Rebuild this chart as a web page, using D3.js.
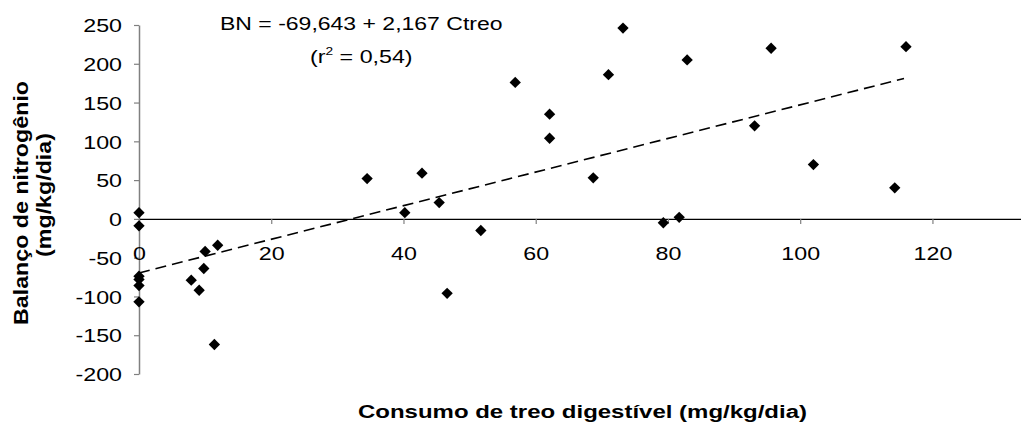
<!DOCTYPE html>
<html>
<head>
<meta charset="utf-8">
<script src="https://cdn.jsdelivr.net/npm/d3@7"></script>
<style>
  html, body { margin: 0; padding: 0; background: #fff; }
  svg { display: block; font-family: "Liberation Sans", Arial, Helvetica, sans-serif; }
</style>
</head>
<body>
<svg id="chart" width="1021" height="426"></svg>
<script>
// ---- data ----
const consumo = [0, 0, 0, 0, 0, 0,
  7.9, 9.1, 9.8, 10.0, 11.9, 11.4,
  34.5, 40.2, 42.8, 45.4, 46.6, 51.7, 56.9, 62.1, 62.1, 68.7, 71.0, 73.2,
  79.3, 81.7, 82.9, 93.1, 95.6, 102.0, 114.3, 116.0];
const balanco = [8, -9, -74, -78, -86, -107,
  -79, -92, -64, -42, -34, -162,
  52, 8, 59, 21, -96, -15, 176, 135, 104, 53, 186, 246,
  -5, 2, 205, 120, 220, 70, 40, 222];
const xTicks = [0, 20, 40, 60, 80, 100, 120];
const yTicks = [-200, -150, -100, -50, 0, 50, 100, 150, 200, 250];
const intercept = -69.643;
const slope = 2.167;
const trendX = [0, 115.7];
const equationText = "BN = -69,643 + 2,167 Ctreo";
const r2Text = " = 0,54)";
const xTitle = "Consumo de treo digestível (mg/kg/dia)";
const yTitle1 = "Balanço de nitrogênio";
const yTitle2 = "(mg/kg/dia)";

// ---- layout ----
const svg = d3.select("#chart");
const FS = 18.6;      // font size
const SX = 1.25;      // horizontal stretch of the reference text

const x = d3.scaleLinear().domain([0, 140]).range([139, 139 + 140 * 6.612]);
const y = d3.scaleLinear().domain([-200, 250]).range([374, 25]);

// y axis (grey)
const yAxis = svg.append("g")
  .attr("transform", `translate(${x(0)},0)`)
  .call(d3.axisLeft(y).tickValues(yTicks).tickSize(5).tickSizeOuter(0).tickFormat(d3.format("d")));
yAxis.select(".domain").attr("stroke", "#808080").attr("stroke-width", 1.5);
yAxis.selectAll(".tick line").attr("stroke", "#808080").attr("stroke-width", 1.2);
yAxis.selectAll(".tick text")
  .attr("x", null).attr("dy", null)
  .attr("transform", `translate(-17,6.7) scale(${SX},1)`)
  .attr("font-size", FS).attr("fill", "#000")
  .attr("font-family", "Liberation Sans, Arial, sans-serif")
  .text(d => d.toString());

// x axis (black line at y = 0)
const xAxis = svg.append("g")
  .attr("transform", `translate(0,${y(0)})`)
  .call(d3.axisBottom(x).tickValues(xTicks).tickSize(5).tickSizeOuter(0));
xAxis.select(".domain").attr("stroke", "#000").attr("stroke-width", 1.4);
xAxis.selectAll(".tick line").attr("stroke", "#808080").attr("stroke-width", 1.2);
xAxis.selectAll(".tick text")
  .attr("y", null).attr("dy", null)
  .attr("transform", `translate(0,41) scale(${SX},1)`)
  .attr("font-size", FS).attr("fill", "#000")
  .attr("font-family", "Liberation Sans, Arial, sans-serif");

// trend line
const line = d3.line().x(d => x(d)).y(d => y(intercept + slope * d));
svg.append("path")
  .datum(trendX)
  .attr("d", line)
  .attr("fill", "none")
  .attr("stroke", "#000")
  .attr("stroke-width", 1.6)
  .attr("stroke-dasharray", "11,6");

// points (diamonds)
const sym = d3.symbol().type(d3.symbolSquare).size(64);
svg.append("g").selectAll("path")
  .data(consumo.map((c, i) => [c, balanco[i]]))
  .join("path")
  .attr("d", sym)
  .attr("transform", d => `translate(${x(d[0])},${y(d[1])}) rotate(45)`)
  .attr("fill", "#000");

// equation
svg.append("text")
  .attr("transform", `translate(220,30) scale(${SX * 0.99},1)`)
  .attr("font-size", FS)
  .text(equationText);
const r2 = svg.append("text")
  .attr("transform", `translate(310,63) scale(${SX},1)`)
  .attr("font-size", FS);
r2.append("tspan").text("(r");
r2.append("tspan").attr("font-size", 11).attr("dy", -8).text("2");
r2.append("tspan").attr("dy", 8).text(r2Text);

// x title
svg.append("text")
  .attr("transform", `translate(358,418) scale(1.29,1)`)
  .attr("font-size", FS)
  .attr("font-weight", "bold")
  .text(xTitle);

// y title (two lines, rotated)
svg.append("text")
  .attr("transform", `translate(28,203) rotate(-90) scale(1.25,1.13)`)
  .attr("font-size", FS).attr("font-weight", "bold")
  .attr("text-anchor", "middle")
  .text(yTitle1);
svg.append("text")
  .attr("transform", `translate(51,195) rotate(-90) scale(1.25,1.13)`)
  .attr("font-size", FS).attr("font-weight", "bold")
  .attr("text-anchor", "middle")
  .text(yTitle2);
</script>
</body>
</html>
